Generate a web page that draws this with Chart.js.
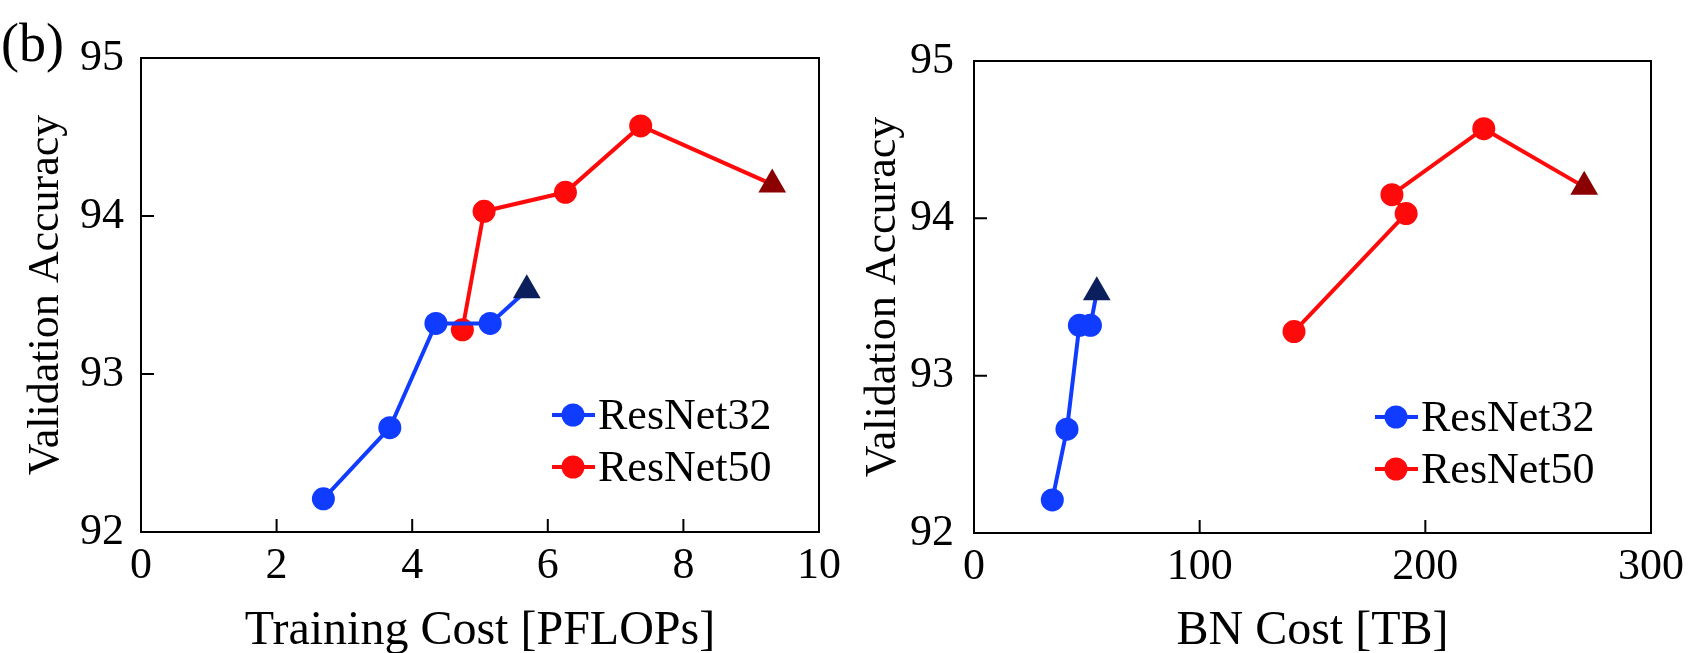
<!DOCTYPE html>
<html lang="en">
<head>
  <meta charset="UTF-8" />
  <meta name="viewport" content="width=device-width, initial-scale=1.0" />
  <title>Validation Accuracy vs. Training and BN Cost</title>
  <script src="https://cdn.jsdelivr.net/npm/chart.js"></script>
  <style>
    body { margin: 0; background: #fff; }
    .panel { position: absolute; top: 0; height: 653px; }
    #leftBox { left: 0; width: 853px; }
    #rightBox { left: 853px; width: 854px; }
    .tag { position: absolute; left: 1px; top: 16px; font: 54px/54px 'Liberation Serif', 'Times New Roman', serif; color: #000; }
  </style>
</head>
<body>
  <div class="panel" id="leftBox"><canvas id="trainChart"></canvas></div>
  <div class="panel" id="rightBox"><canvas id="bnChart"></canvas></div>
  <div class="tag">(b)</div>

  <script>
    // accuracy is the same for both panels, only the cost axis changes
    const seriesNames = ['ResNet32', 'ResNet50'];
    const r32Acc = [92.21, 92.66, 93.32, 93.32, 93.53];
    const r50Acc = [93.28, 94.03, 94.15, 94.57, 94.2];
    const r32TrainCost = [2.69, 3.67, 4.35, 5.15, 5.69];
    const r50TrainCost = [4.74, 5.06, 6.26, 7.37, 9.31];
    const r32BnCost = [34.7, 41.2, 46.7, 51.6, 54.4];
    const r50BnCost = [141.8, 191.5, 185.2, 225.9, 270.4];
    const yTicks = [92, 93, 94, 95];

    const FONT = "'Liberation Serif', 'Times New Roman', serif";
    const blue = '#0f3cff', navy = '#0a1f5c';
    const red = '#ff0a0a', darkRed = '#8b0000';

    function pairs(xs, ys) {
      return xs.map((x, i) => ({ x: x, y: ys[i] }));
    }

    // last point of each run is the triangle
    function series(label, xs, ys, color, lastColor) {
      const n = xs.length;
      return {
        label: label,
        data: pairs(xs, ys),
        borderColor: color,
        borderWidth: 4,
        showLine: true,
        tension: 0,
        pointStyle: xs.map((_, i) => i === n - 1 ? 'triangle' : 'circle'),
        pointRadius: xs.map((_, i) => i === n - 1 ? 16 : 11.5),
        pointBackgroundColor: xs.map((_, i) => i === n - 1 ? lastColor : color),
        pointBorderWidth: 0,
        pointHoverRadius: 0
      };
    }

    const framePlugin = {
      id: 'frame',
      afterDraw(chart, args, opts) {
        const { ctx, chartArea: a, scales } = chart;
        ctx.save();
        ctx.strokeStyle = '#000';
        ctx.lineWidth = 2;
        ctx.strokeRect(a.left, a.top, a.right - a.left, a.bottom - a.top);

        // ticks point inward
        ctx.beginPath();
        scales.x.ticks.forEach(t => {
          const px = scales.x.getPixelForValue(t.value);
          if (px < a.left + 2 || px > a.right - 2) return;
          ctx.moveTo(px, a.bottom);
          ctx.lineTo(px, a.bottom - opts.tickLen);
        });
        scales.y.ticks.forEach(t => {
          const py = scales.y.getPixelForValue(t.value);
          if (py < a.top + 2 || py > a.bottom - 2) return;
          ctx.moveTo(a.left, py);
          ctx.lineTo(a.left + opts.tickLen, py);
        });
        ctx.stroke();

        // legend in the lower right corner
        ctx.font = '44px ' + FONT;
        ctx.textBaseline = 'middle';
        ctx.fillStyle = '#000';
        chart.data.datasets.forEach((ds, i) => {
          const x0 = a.right - opts.legendRight;
          const y = a.bottom - opts.legendBottom + i * opts.legendGap;
          ctx.strokeStyle = ds.borderColor;
          ctx.lineWidth = 4;
          ctx.beginPath();
          ctx.moveTo(x0, y);
          ctx.lineTo(x0 + 43, y);
          ctx.stroke();
          ctx.fillStyle = ds.borderColor;
          ctx.beginPath();
          ctx.arc(x0 + 21, y, 11.5, 0, Math.PI * 2);
          ctx.fill();
          ctx.fillStyle = '#000';
          ctx.fillText(ds.label, x0 + 46, y + 2);
        });
        ctx.restore();
      }
    };

    function makeChart(id, datasets, xMax, xStep, xTitle, box) {
      return new Chart(document.getElementById(id), {
        type: 'scatter',
        data: { datasets: datasets },
        options: {
          responsive: true,
          maintainAspectRatio: false,
          animation: false,
          layout: { padding: { top: box.top, right: box.right, left: 0, bottom: 0 } },
          plugins: {
            legend: { display: false },
            tooltip: { enabled: false },
            frame: { tickLen: 13, legendRight: box.legendRight, legendBottom: box.legendBottom, legendGap: 52 }
          },
          scales: {
            x: {
              type: 'linear',
              min: 0,
              max: xMax,
              grid: { display: false, drawTicks: false },
              border: { display: false },
              ticks: { stepSize: xStep, color: '#000', padding: 8, font: { family: FONT, size: 44 } },
              title: { display: true, text: xTitle, color: '#000', padding: { bottom: -7 }, font: { family: FONT, size: 48 } },
              afterFit: s => { s.height = box.xHeight; }
            },
            y: {
              type: 'linear',
              min: yTicks[0],
              max: yTicks[yTicks.length - 1],
              afterBuildTicks: s => { s.ticks = yTicks.map(v => ({ value: v })); },
              grid: { display: false, drawTicks: false },
              border: { display: false },
              ticks: { color: '#000', padding: box.yPad, font: { family: FONT, size: 44 } },
              title: { display: true, text: 'Validation Accuracy', color: '#000', padding: { top: box.yTitlePad }, font: { family: FONT, size: 44 } },
              afterFit: s => { s.width = box.yWidth; }
            }
          }
        },
        plugins: [framePlugin]
      });
    }

    makeChart('trainChart', [
      series(seriesNames[0], r32TrainCost, r32Acc, blue, navy),
      series(seriesNames[1], r50TrainCost, r50Acc, red, darkRed)
    ], 10, 2, 'Training Cost [PFLOPs]',
      { top: 58, right: 34, xHeight: 121, yWidth: 141, yPad: 17, yTitlePad: 20, legendRight: 267, legendBottom: 117 });

    makeChart('bnChart', [
      series(seriesNames[0], r32BnCost, r32Acc, blue, navy),
      series(seriesNames[1], r50BnCost, r50Acc, red, darkRed)
    ], 300, 100, 'BN Cost [TB]',
      { top: 61, right: 56, xHeight: 120, yWidth: 121, yPad: 20, yTitlePad: 4, legendRight: 276, legendBottom: 116 });
  </script>
</body>
</html>
